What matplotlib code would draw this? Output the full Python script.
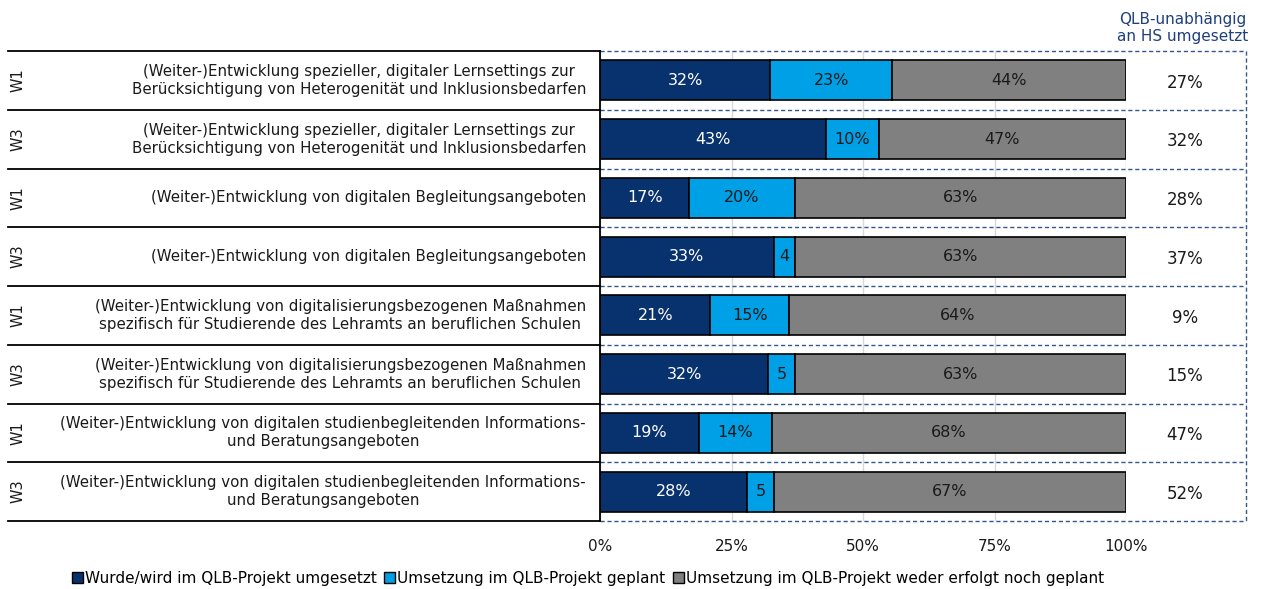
import matplotlib.pyplot as plt
import matplotlib.transforms as mtransforms
from matplotlib.patches import Patch

plt.rcParams['font.family'] = ['DejaVu Sans']

# --- data ---
waves = ["W1", "W3", "W1", "W3", "W1", "W3", "W1", "W3"]
items = [
    "(Weiter-)Entwicklung spezieller, digitaler Lernsettings zur\nBerücksichtigung von Heterogenität und Inklusionsbedarfen",
    "(Weiter-)Entwicklung spezieller, digitaler Lernsettings zur\nBerücksichtigung von Heterogenität und Inklusionsbedarfen",
    "(Weiter-)Entwicklung von digitalen Begleitungsangeboten",
    "(Weiter-)Entwicklung von digitalen Begleitungsangeboten",
    "(Weiter-)Entwicklung von digitalisierungsbezogenen Maßnahmen\nspezifisch für Studierende des Lehramts an beruflichen Schulen",
    "(Weiter-)Entwicklung von digitalisierungsbezogenen Maßnahmen\nspezifisch für Studierende des Lehramts an beruflichen Schulen",
    "(Weiter-)Entwicklung von digitalen studienbegleitenden Informations-\nund Beratungsangeboten",
    "(Weiter-)Entwicklung von digitalen studienbegleitenden Informations-\nund Beratungsangeboten",
]
umgesetzt = [32, 43, 17, 33, 21, 32, 19, 28]
geplant = [23, 10, 20, 4, 15, 5, 14, 5]
weder = [44, 47, 63, 63, 64, 63, 68, 67]
unabhaengig = [27, 32, 28, 37, 9, 15, 47, 52]

series_names = [
    "Wurde/wird im QLB-Projekt umgesetzt",
    "Umsetzung im QLB-Projekt geplant",
    "Umsetzung im QLB-Projekt weder erfolgt noch geplant",
]
colors = ["#08326E", "#00A0E6", "#808080"]
text_colors = ["white", "#1a1a1a", "#1a1a1a"]
xticks = [0, 25, 50, 75, 100]

W, H = 1262, 589
fig = plt.figure(figsize=(W / 100, H / 100), dpi=100, facecolor="white")
ax = fig.add_axes([600 / W, (H - 521) / H, 526 / W, 470 / H])

n = len(items)
rows = list(range(n))
bar_h = 0.68

# 100 % stacked bars, each row scaled to its own total
left = [0.0] * n
totals = [a + b + c for a, b, c in zip(umgesetzt, geplant, weder)]
for vals, col, tcol in zip([umgesetzt, geplant, weder], colors, text_colors):
    widths = [v / t * 100 for v, t in zip(vals, totals)]
    ax.barh(rows, widths, left=left, height=bar_h, color=col,
            edgecolor="black", linewidth=1.2, zorder=3)
    for r, v, w, l in zip(rows, vals, widths, left):
        lab = f"{v}%" if v >= 10 else f"{v}"
        ax.text(l + w / 2, r, lab, ha="center", va="center",
                color=tcol, fontsize=11.5, zorder=4)
    left = [l + w for l, w in zip(left, widths)]

ax.set_xlim(0, 100)
ax.set_ylim(n - 0.5, -0.5)
for s in ax.spines.values():
    s.set_visible(False)
ax.set_yticks([])
ax.set_xticks(xticks)
ax.set_xticklabels([f"{t}%" for t in xticks], fontsize=11, color="#1a1a1a")
ax.tick_params(axis="x", length=0, pad=13)
ax.xaxis.grid(True, color="#D9D9D9", lw=1, zorder=0)

trans = mtransforms.blended_transform_factory(ax.transAxes, ax.transData)
box_right = (1246 - 600) / 526

# dashed box + row separators on the chart side
dash_col = "#35558F"
for b in range(n + 1):
    y = b - 0.5
    ax.plot([0, box_right], [y, y], transform=trans, color=dash_col,
            lw=1, ls=(0, (3, 2)), clip_on=False, zorder=2)
ax.plot([box_right, box_right], [-0.5, n - 0.5], transform=trans,
        color=dash_col, lw=1, ls=(0, (3, 2)), clip_on=False)

# left table lines
x_tab0 = (8 - 600) / 526
for b in range(n + 1):
    y = b - 0.5
    ax.plot([x_tab0, 0], [y, y], transform=trans, color="black",
            lw=1.3, clip_on=False, zorder=5)
ax.plot([0, 0], [-0.5, n - 0.5], transform=trans, color="black",
        lw=1.3, clip_on=False, zorder=5)

# row labels
for r in rows:
    ax.text((18 - 600) / 526, r, waves[r], transform=trans, rotation=90,
            ha="center", va="center", fontsize=10.5, color="#1a1a1a")
    ax.text((586 - 600) / 526, r, items[r], transform=trans, ha="right",
            va="center", multialignment="center", fontsize=10.8,
            color="#1a1a1a", linespacing=1.25)
    ax.text((1185 - 600) / 526, r + 0.04, f"{unabhaengig[r]}%",
            transform=trans, ha="center", va="center", fontsize=12,
            color="#1a1a1a")

fig.text(1183 / W, 1 - 28 / H, "QLB-unabhängig\nan HS umgesetzt",
         ha="center", va="center", fontsize=11, color="#1F3F7F",
         linespacing=1.15)

handles = [Patch(facecolor=c, edgecolor="black", lw=1) for c in colors]
fig.legend(handles, series_names, loc="center", ncol=3,
           bbox_to_anchor=(588 / W, 1 - 578 / H), frameon=False,
           fontsize=11, handlelength=0.7, handleheight=0.7,
           handletextpad=0.15, columnspacing=0.5)

fig.savefig("out.png", dpi=100)
